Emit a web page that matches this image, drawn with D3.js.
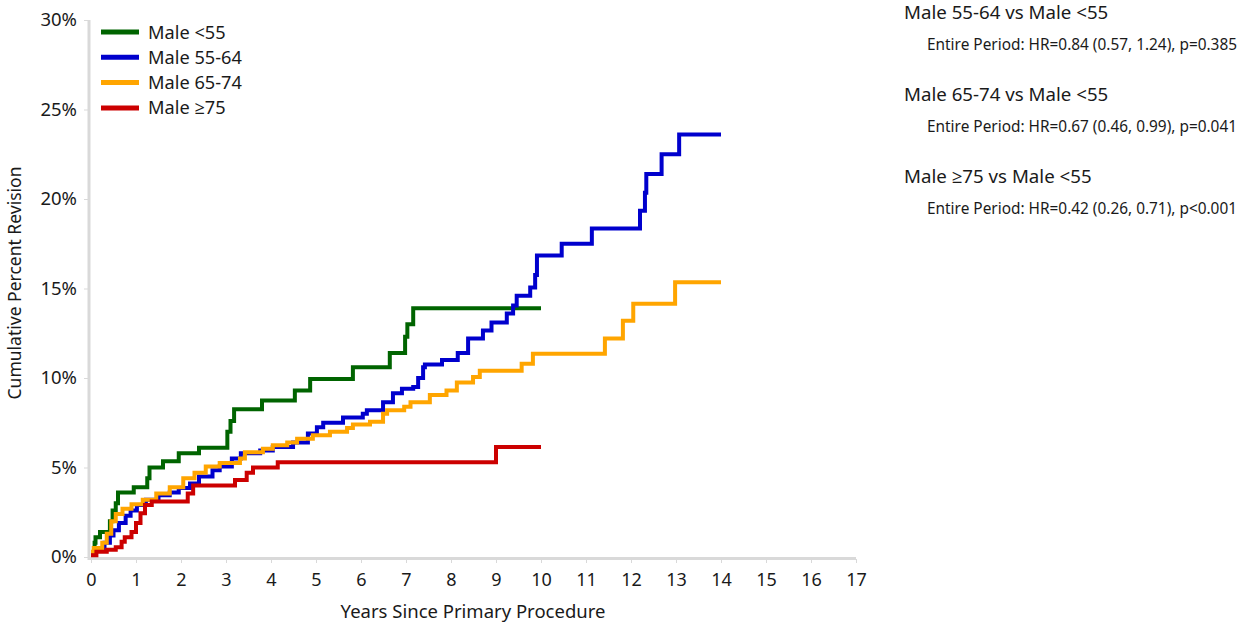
<!DOCTYPE html>
<html><head><meta charset="utf-8">
<script src="https://cdn.jsdelivr.net/npm/d3@7"></script>
<style>
body{margin:0;background:#fff;}
text{font-family:"Noto Sans","Open Sans",sans-serif;fill:#1a1a1a;}
</style></head>
<body><svg id="c" width="1244" height="626"></svg>
<script>
const seriesNames = ["Male <55","Male 55-64","Male 65-74","Male \u226575"];
const seriesColors = ["#006400","#0000cd","#ffa500","#cc0000"];
const xTicks = d3.range(0,18);
const yTicks = [0,5,10,15,20,25,30];

const male_lt55 = [[0,0.2],[0.08,0.8],[0.1,1.1],[0.2,1.4],[0.42,2.0],[0.48,2.6],[0.55,3.0],[0.6,3.6],[0.95,3.9],[1.25,4.4],[1.3,5.0],[1.6,5.35],[1.95,5.8],[2.4,6.1],[3.03,7.0],[3.1,7.6],[3.18,8.25],[3.8,8.75],[4.53,9.3],[4.87,9.95],[5.82,10.6],[6.64,11.4],[6.98,12.3],[7.03,13.0],[7.16,13.9],[10.0,13.9]];
const male_55_64 = [[0,0.2],[0.1,0.4],[0.3,0.8],[0.42,1.2],[0.5,1.5],[0.62,1.9],[0.77,2.3],[0.88,2.6],[1.02,2.9],[1.22,3.2],[1.5,3.45],[1.75,3.6],[1.95,3.85],[2.2,4.1],[2.4,4.5],[2.7,4.85],[2.86,5.05],[3.13,5.5],[3.33,5.8],[3.76,5.95],[4.04,6.15],[4.49,6.4],[4.82,6.9],[5.02,7.25],[5.16,7.5],[5.6,7.8],[6.04,8.0],[6.13,8.2],[6.49,8.65],[6.71,9.15],[6.91,9.4],[7.16,9.5],[7.27,10.0],[7.38,10.6],[7.42,10.75],[7.8,11.0],[8.15,11.4],[8.38,12.2],[8.71,12.65],[8.9,13.1],[9.24,13.6],[9.38,14.05],[9.46,14.6],[9.76,15.05],[9.87,15.75],[9.91,16.85],[10.46,17.5],[11.13,18.35],[12.2,19.35],[12.31,20.35],[12.34,21.4],[12.68,22.5],[13.07,23.6],[14.0,23.6]];
const male_65_74 = [[0,0.3],[0.06,0.5],[0.25,0.8],[0.35,1.3],[0.45,2.0],[0.55,2.4],[0.7,2.7],[0.9,2.95],[1.15,3.2],[1.45,3.55],[1.75,3.9],[2.05,4.4],[2.3,4.7],[2.55,5.05],[2.86,5.25],[3.31,5.5],[3.42,5.85],[3.82,6.05],[4.04,6.25],[4.36,6.4],[4.58,6.6],[4.93,6.8],[5.31,7.0],[5.69,7.2],[5.82,7.4],[6.2,7.55],[6.49,8.0],[6.58,8.2],[6.96,8.4],[7.1,8.65],[7.53,9.05],[7.9,9.3],[8.13,9.75],[8.49,10.05],[8.64,10.4],[9.57,10.8],[9.82,11.35],[11.42,12.2],[11.82,13.2],[12.05,14.15],[12.98,15.35],[14.0,15.35]];
const male_ge75 = [[0,0.1],[0.12,0.3],[0.35,0.4],[0.55,0.55],[0.68,0.85],[0.75,1.1],[0.9,1.4],[1.0,1.9],[1.1,2.45],[1.2,2.9],[1.35,3.1],[2.15,3.55],[2.27,4.0],[3.2,4.3],[3.46,4.7],[3.6,5.0],[4.15,5.3],[9.0,6.15],[10.0,6.15]];
const seriesData = [male_lt55, male_55_64, male_65_74, male_ge75];

const annTitles = ["Male 55-64 vs Male <55","Male 65-74 vs Male <55","Male \u226575 vs Male <55"];
const annStats = ["Entire Period: HR=0.84 (0.57, 1.24), p=0.385","Entire Period: HR=0.67 (0.46, 0.99), p=0.041","Entire Period: HR=0.42 (0.26, 0.71), p<0.001"];

const svg = d3.select("#c");
const x = d3.scaleLinear().domain([0,17]).range([91,856]);
const y = d3.scaleLinear().domain([0,30]).range([557,20]);

// axes
const axisCol = "#d9d9d9";
svg.append("line").attr("x1",89).attr("x2",89).attr("y1",y(30)).attr("y2",560).attr("stroke",axisCol).attr("stroke-width",3);
svg.append("line").attr("x1",88).attr("x2",x(17)).attr("y1",558.5).attr("y2",558.5).attr("stroke",axisCol).attr("stroke-width",3);

const yAxis = d3.axisLeft(y).tickValues(yTicks).tickFormat(d=>d+"%").tickSize(4).tickPadding(7);
const gy = svg.append("g").attr("transform","translate(88,0)").call(yAxis);
gy.select(".domain").remove();
gy.selectAll(".tick line").attr("stroke",axisCol);
gy.selectAll(".tick text").attr("font-size",18.5).attr("fill","#1a1a1a").attr("font-family","Noto Sans, sans-serif");

const xAxis = d3.axisBottom(x).tickValues(xTicks).tickSize(4).tickPadding(10);
const gx = svg.append("g").attr("transform","translate(0,559)").call(xAxis);
gx.select(".domain").remove();
gx.selectAll(".tick line").attr("stroke",axisCol);
gx.selectAll(".tick text").attr("font-size",18).attr("fill","#1a1a1a").attr("font-family","Noto Sans, sans-serif");

svg.append("text").attr("x",473).attr("y",618).attr("text-anchor","middle").attr("font-size",18.5).text("Years Since Primary Procedure");
svg.append("text").attr("transform","translate(21,283) rotate(-90)").attr("text-anchor","middle").attr("font-size",17.5).text("Cumulative Percent Revision");

// curves
const line = d3.line().x(d=>x(d[0])).y(d=>y(d[1])).curve(d3.curveStepAfter);
seriesData.forEach((s,i)=>{
  svg.append("path").datum(s).attr("d",line).attr("fill","none")
    .attr("stroke",seriesColors[i]).attr("stroke-width",4).attr("stroke-linejoin","miter");
});

// legend
seriesNames.forEach((n,i)=>{
  const ly = 32 + i*25.3;
  svg.append("line").attr("x1",101).attr("x2",139).attr("y1",ly).attr("y2",ly).attr("stroke",seriesColors[i]).attr("stroke-width",5);
  svg.append("text").attr("x",148).attr("y",ly+6.5).attr("font-size",18.2).text(n);
});

// annotations
annTitles.forEach((t,i)=>{
  const by = 12 + i*82;
  svg.append("text").attr("x",904).attr("y",by+6.5).attr("font-size",18.7).text(t);
  svg.append("text").attr("x",927).attr("y",by+37.5).attr("font-size",15.4).text(annStats[i]);
});
</script></body></html>
